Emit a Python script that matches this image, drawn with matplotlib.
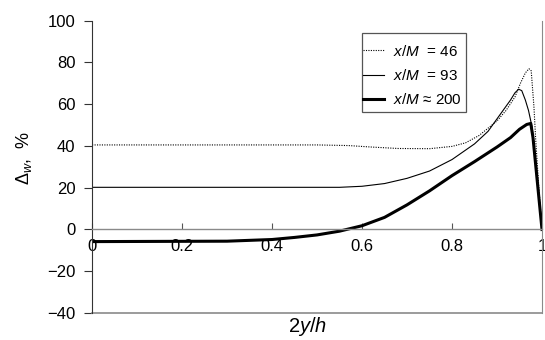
"""Wall-deviation profiles across the channel half-height."""

import matplotlib

matplotlib.use("Agg")
import matplotlib.pyplot as plt
from matplotlib.patches import Rectangle

plt.rcParams["font.family"] = ["Liberation Sans", "DejaVu Sans"]
plt.rcParams["mathtext.fontset"] = "custom"
plt.rcParams["mathtext.rm"] = "Liberation Sans"
plt.rcParams["mathtext.it"] = "Liberation Sans:italic"

# x/M = 46
y46 = [0.0, 0.5, 0.57, 0.62, 0.68, 0.75, 0.8, 0.83, 0.86, 0.88, 0.9, 0.92,
       0.94, 0.952, 0.963, 0.971, 0.976, 0.982, 0.986, 0.993, 1.0]
d46 = [40.5, 40.5, 40.2, 39.5, 38.8, 38.7, 39.8, 41.5, 45.0, 48.5, 52.0, 57.0,
       63.5, 70.0, 75.0, 77.0, 76.0, 59.0, 43.0, 20.0, 0.0]

# x/M = 93
y93 = [0.0, 0.55, 0.6, 0.65, 0.7, 0.75, 0.8, 0.85, 0.88, 0.91, 0.93, 0.94,
       0.948, 0.955, 0.963, 0.97, 0.978, 0.99, 1.0]
d93 = [20.2, 20.2, 20.7, 22.0, 24.5, 28.0, 33.5, 41.0, 47.0, 56.0, 62.0, 65.5,
       67.2, 66.5, 62.0, 57.0, 49.0, 25.0, 0.0]

# x/M ~ 200
y200 = [0.0, 0.3, 0.4, 0.45, 0.5, 0.55, 0.6, 0.65, 0.7, 0.75, 0.8, 0.85, 0.9,
        0.93, 0.95, 0.966, 0.975, 0.98, 0.99, 1.0]
d200 = [-5.8, -5.6, -4.8, -3.8, -2.6, -0.8, 1.8, 5.8, 11.8, 18.5, 25.8, 32.5,
        39.5, 44.0, 48.0, 50.3, 50.8, 44.0, 22.0, 0.0]

x_ticks = [0, 0.2, 0.4, 0.6, 0.8, 1]
x_ticklabels = ["0", "0.2", "0.4", "0.6", "0.8", "1"]
y_ticks = [-40, -20, 0, 20, 40, 60, 80, 100]
y_ticklabels = ["\u221240", "\u221220", "0", "20", "40", "60", "80", "100"]

fig = plt.figure(figsize=(5.45, 3.4), dpi=100)
ax = fig.add_axes([0.169, 0.0794, 0.8255, 0.8597])

ax.plot(y46, d46, color="black", lw=0.8, linestyle=(0, (1, 1.2)),
        label="$\\mathit{x/M}$  = 46")
ax.plot(y93, d93, color="black", lw=0.8, label="$\\mathit{x/M}$  = 93")
ax.plot(y200, d200, color="black", lw=2.2, label="$\\mathit{x/M}$ \u2248 200")

ax.set_xlim(0, 1)
ax.set_ylim(-40, 100)
ax.set_xticks(x_ticks)
ax.set_xticklabels(x_ticklabels)
ax.set_yticks(y_ticks)
ax.set_yticklabels(y_ticklabels)

# x axis runs along zero, plot frame closes at the bottom and right
ax.spines["bottom"].set_position(("data", 0))
ax.spines["bottom"].set_color("#8a8a8a")
ax.spines["bottom"].set_linewidth(1.0)
ax.spines["top"].set_visible(False)
ax.spines["right"].set_color("#8a8a8a")
ax.spines["left"].set_color("#333333")
ax.plot([0, 1], [0, 0], transform=ax.transAxes, color="#8a8a8a", lw=1.2,
        clip_on=False)

ax.tick_params(axis="x", direction="in", length=4, width=0.8,
               color="#555555", labelsize=12, pad=7)
ax.tick_params(axis="y", direction="out", length=6, width=0.8,
               color="#333333", labelsize=12, pad=6)

ax.set_xlabel("2$\\mathit{y/h}$", fontsize=14.5)
ax.xaxis.set_label_coords(0.48, -0.008)
ax.set_ylabel("$\\mathit{\\Delta_w}$,  %", fontsize=13)
ax.yaxis.set_label_coords(-0.13, 0.53)

# legend entries sit in a tight box drawn separately
leg = ax.legend(loc="upper left", bbox_to_anchor=(0.602, 0.921),
                borderaxespad=0, borderpad=0, fontsize=11, frameon=False,
                handlelength=1.4, handletextpad=0.6, labelspacing=0.6)
ax.add_patch(Rectangle((0.600, 0.689), 0.232, 0.270, transform=ax.transAxes,
                       fill=False, edgecolor="#555555", lw=0.9,
                       clip_on=False))

fig.savefig("out.png", dpi=100)
